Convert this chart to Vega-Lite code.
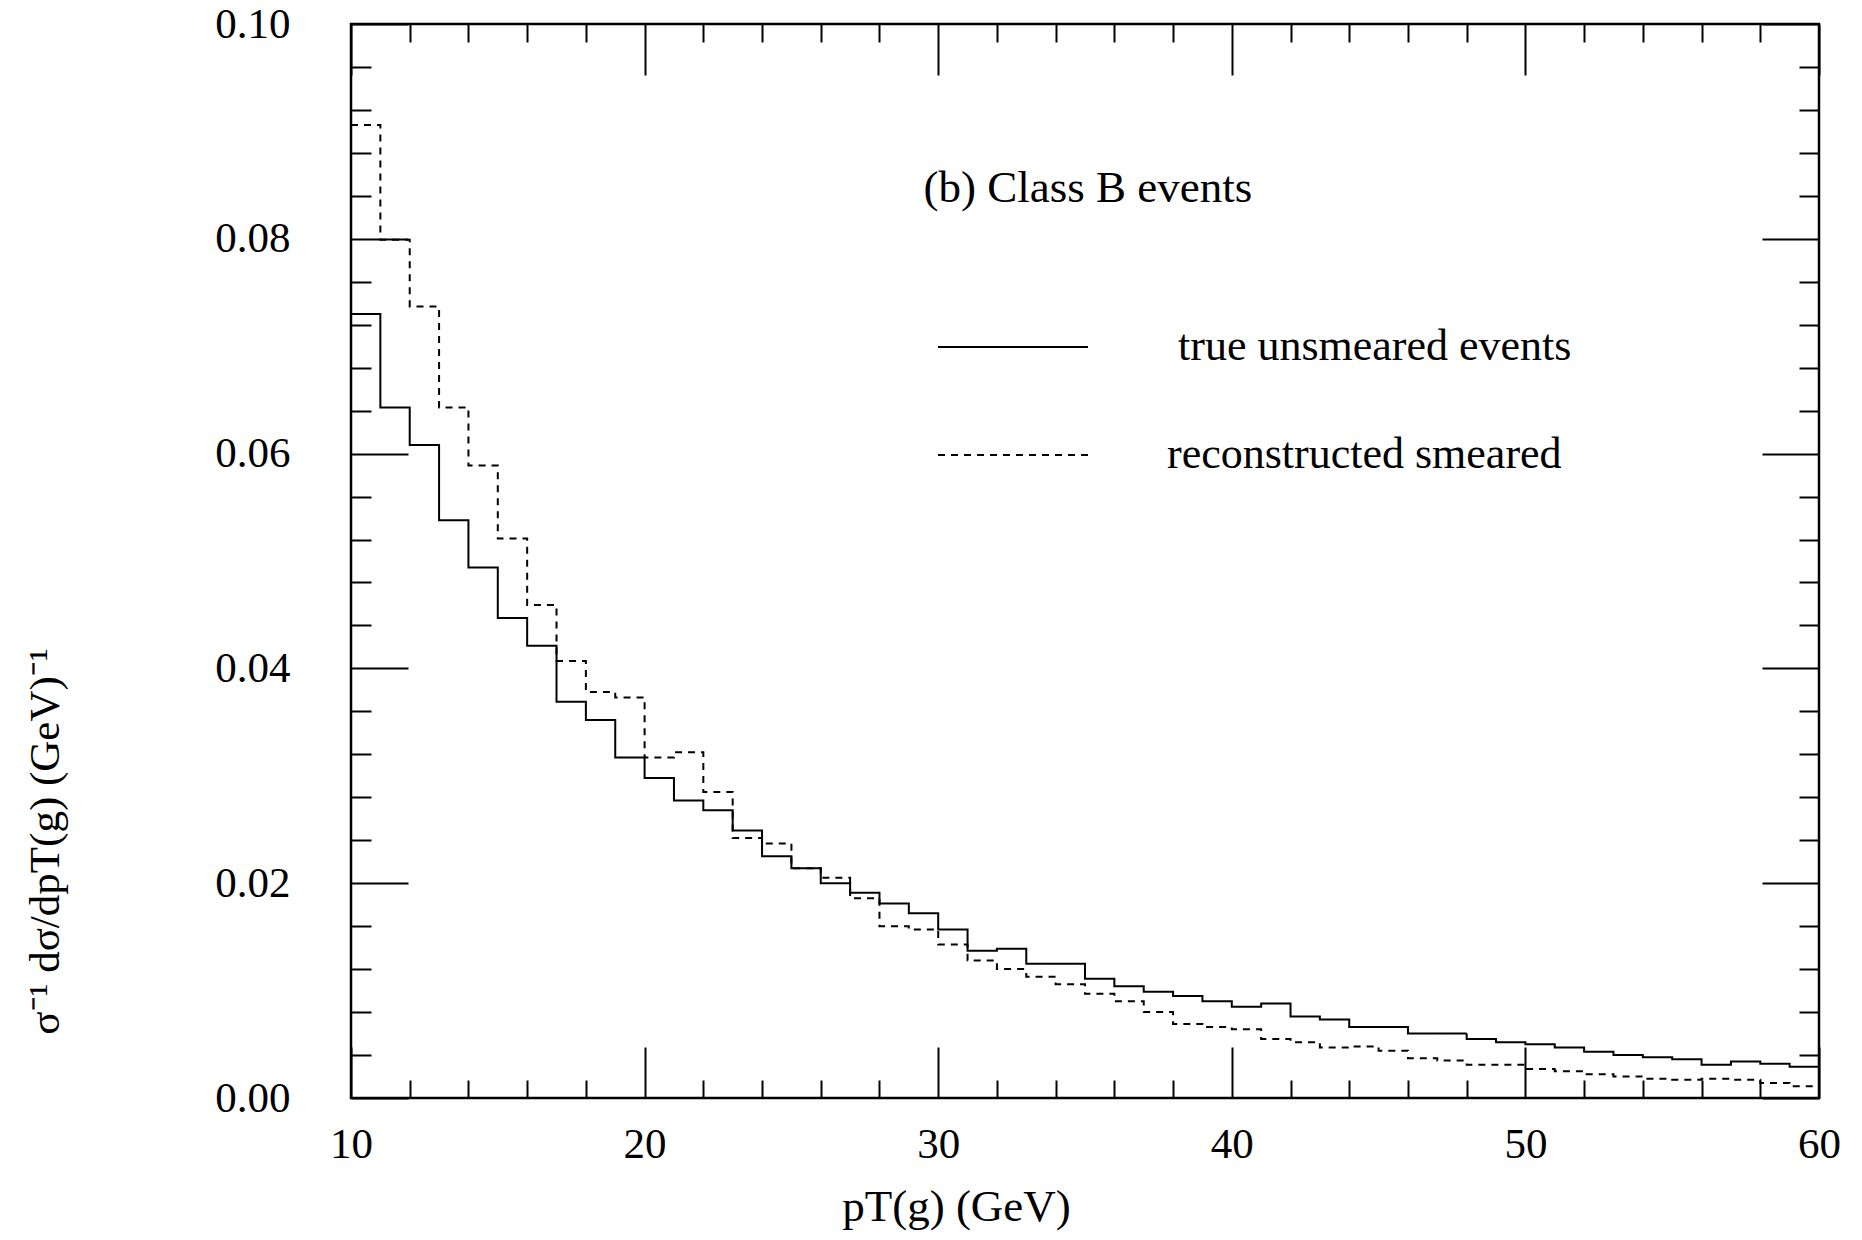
{
  "$schema": "https://vega.github.io/schema/vega-lite/v6.json",
  "width": 1468,
  "height": 1074,
  "autosize": {"type": "none"},
  "padding": {"left": 351, "top": 24, "right": 43, "bottom": 142},
  "background": "white",
  "config": {
    "view": {"stroke": "black", "strokeWidth": 2.5},
    "axis": {"domain": false, "grid": false, "tickColor": "black", "tickWidth": 2, "labelColor": "black", "labelFont": "Liberation Serif", "labelFontSize": 43, "titleFont": "Liberation Serif", "titleFontWeight": "normal", "titleColor": "black", "labelFlush": false, "labelOverlap": false}
  },
  "datasets": {
    "hist": [
      {"lo": 10, "hi": 11, "unsmeared": 0.0730, "smeared": 0.0906},
      {"lo": 11, "hi": 12, "unsmeared": 0.0643, "smeared": 0.0799},
      {"lo": 12, "hi": 13, "unsmeared": 0.0608, "smeared": 0.0737},
      {"lo": 13, "hi": 14, "unsmeared": 0.0538, "smeared": 0.0643},
      {"lo": 14, "hi": 15, "unsmeared": 0.0494, "smeared": 0.0589},
      {"lo": 15, "hi": 16, "unsmeared": 0.0447, "smeared": 0.0521},
      {"lo": 16, "hi": 17, "unsmeared": 0.0421, "smeared": 0.0459},
      {"lo": 17, "hi": 18, "unsmeared": 0.0369, "smeared": 0.0407},
      {"lo": 18, "hi": 19, "unsmeared": 0.0352, "smeared": 0.0378},
      {"lo": 19, "hi": 20, "unsmeared": 0.0317, "smeared": 0.0373},
      {"lo": 20, "hi": 21, "unsmeared": 0.0298, "smeared": 0.0317},
      {"lo": 21, "hi": 22, "unsmeared": 0.0277, "smeared": 0.0322},
      {"lo": 22, "hi": 23, "unsmeared": 0.0268, "smeared": 0.0285},
      {"lo": 23, "hi": 24, "unsmeared": 0.0249, "smeared": 0.0242},
      {"lo": 24, "hi": 25, "unsmeared": 0.0225, "smeared": 0.0237},
      {"lo": 25, "hi": 26, "unsmeared": 0.0214, "smeared": 0.0214},
      {"lo": 26, "hi": 27, "unsmeared": 0.0200, "smeared": 0.0205},
      {"lo": 27, "hi": 28, "unsmeared": 0.0191, "smeared": 0.0186},
      {"lo": 28, "hi": 29, "unsmeared": 0.0181, "smeared": 0.0160},
      {"lo": 29, "hi": 30, "unsmeared": 0.0172, "smeared": 0.0157},
      {"lo": 30, "hi": 31, "unsmeared": 0.0157, "smeared": 0.0143},
      {"lo": 31, "hi": 32, "unsmeared": 0.0137, "smeared": 0.0128},
      {"lo": 32, "hi": 33, "unsmeared": 0.0139, "smeared": 0.0120},
      {"lo": 33, "hi": 34, "unsmeared": 0.0125, "smeared": 0.0113},
      {"lo": 34, "hi": 35, "unsmeared": 0.0125, "smeared": 0.0106},
      {"lo": 35, "hi": 36, "unsmeared": 0.0111, "smeared": 0.0097},
      {"lo": 36, "hi": 37, "unsmeared": 0.0104, "smeared": 0.0090},
      {"lo": 37, "hi": 38, "unsmeared": 0.0099, "smeared": 0.0080},
      {"lo": 38, "hi": 39, "unsmeared": 0.0095, "smeared": 0.0069},
      {"lo": 39, "hi": 40, "unsmeared": 0.0090, "smeared": 0.0066},
      {"lo": 40, "hi": 41, "unsmeared": 0.0085, "smeared": 0.0064},
      {"lo": 41, "hi": 42, "unsmeared": 0.0088, "smeared": 0.0055},
      {"lo": 42, "hi": 43, "unsmeared": 0.0076, "smeared": 0.0052},
      {"lo": 43, "hi": 44, "unsmeared": 0.0073, "smeared": 0.0047},
      {"lo": 44, "hi": 45, "unsmeared": 0.0066, "smeared": 0.0048},
      {"lo": 45, "hi": 46, "unsmeared": 0.0066, "smeared": 0.0044},
      {"lo": 46, "hi": 47, "unsmeared": 0.0060, "smeared": 0.0037},
      {"lo": 47, "hi": 48, "unsmeared": 0.0060, "smeared": 0.0035},
      {"lo": 48, "hi": 49, "unsmeared": 0.0055, "smeared": 0.0031},
      {"lo": 49, "hi": 50, "unsmeared": 0.0052, "smeared": 0.0031},
      {"lo": 50, "hi": 51, "unsmeared": 0.0050, "smeared": 0.0027},
      {"lo": 51, "hi": 52, "unsmeared": 0.0047, "smeared": 0.0025},
      {"lo": 52, "hi": 53, "unsmeared": 0.0043, "smeared": 0.0022},
      {"lo": 53, "hi": 54, "unsmeared": 0.0040, "smeared": 0.0020},
      {"lo": 54, "hi": 55, "unsmeared": 0.0038, "smeared": 0.0018},
      {"lo": 55, "hi": 56, "unsmeared": 0.0036, "smeared": 0.0017},
      {"lo": 56, "hi": 57, "unsmeared": 0.0031, "smeared": 0.0018},
      {"lo": 57, "hi": 58, "unsmeared": 0.0034, "smeared": 0.0017},
      {"lo": 58, "hi": 59, "unsmeared": 0.0032, "smeared": 0.0014},
      {"lo": 59, "hi": 60, "unsmeared": 0.0029, "smeared": 0.0011}
    ],
    "note": [{"label": "(b) Class B events"}]
  },
  "data": {"name": "hist"},
  "transform": [
    {"fold": ["unsmeared", "smeared"], "as": ["series", "v"]},
    {"fold": ["lo", "hi"], "as": ["edge", "x"]}
  ],
  "resolve": {"axis": {"x": "independent", "y": "independent"}},
  "layer": [
    {
      "mark": {"type": "line", "color": "black", "strokeWidth": 2, "interpolate": "linear"},
      "encoding": {
        "x": {"field": "x", "type": "quantitative", "scale": {"domain": [10, 60], "nice": false, "zero": false},
          "axis": {"orient": "bottom", "values": [10, 20, 30, 40, 50, 60], "format": "d", "tickSize": -51, "labelPadding": 76,
            "title": "pT(g) (GeV)", "titleFontSize": 45, "titleX": 605, "titleY": 122, "titleBaseline": "alphabetic", "titleAlign": "center"}},
        "y": {"field": "v", "type": "quantitative", "scale": {"domain": [0, 0.1], "nice": false, "zero": false},
          "axis": {"orient": "left", "values": [0, 0.02, 0.04, 0.06, 0.08, 0.1], "format": ".2f", "tickSize": -57, "labelPadding": 118,
            "title": "σ⁻¹ dσ/dpT(g) (GeV)⁻¹", "titleFontSize": 43, "titleX": -293, "titleY": 817, "titleAngle": 270, "titleBaseline": "alphabetic", "titleAlign": "center"}},
        "strokeDash": {"field": "series", "type": "nominal",
          "scale": {"domain": ["unsmeared", "smeared"], "range": [[1, 0], [7, 6]]},
          "legend": {"orient": "none", "legendX": 586, "legendY": 273, "title": null, "padding": 0,
            "symbolType": "stroke", "symbolSize": 22500, "symbolStrokeWidth": 2, "symbolStrokeColor": "black",
            "clipHeight": 100, "rowPadding": 8, "labelOffset": 78, "labelFont": "Liberation Serif", "labelFontSize": 44,
            "labelColor": "black", "labelLimit": 0,
            "labelExpr": "datum.value == 'unsmeared' ? '\u200b\u00a0true unsmeared events' : 'reconstructed smeared'"}},
        "order": {"value": null}
      }
    },
    {
      "mark": {"type": "point", "opacity": 0},
      "encoding": {
        "x": {"field": "x", "type": "quantitative", "scale": {"domain": [10, 60], "nice": false, "zero": false},
          "axis": {"orient": "top", "values": [10, 20, 30, 40, 50, 60], "tickSize": -51, "labels": false, "title": null}},
        "y": {"field": "v", "type": "quantitative", "scale": {"domain": [0, 0.1], "nice": false, "zero": false},
          "axis": {"orient": "right", "values": [0, 0.02, 0.04, 0.06, 0.08, 0.1], "tickSize": -57, "labels": false, "title": null}}
      }
    },
    {
      "mark": {"type": "point", "opacity": 0},
      "encoding": {
        "x": {"field": "x", "type": "quantitative", "scale": {"domain": [10, 60], "nice": false, "zero": false},
          "axis": {"orient": "bottom", "values": [12, 14, 16, 18, 22, 24, 26, 28, 32, 34, 36, 38, 42, 44, 46, 48, 52, 54, 56, 58], "tickSize": -18, "labels": false, "title": null}},
        "y": {"field": "v", "type": "quantitative", "scale": {"domain": [0, 0.1], "nice": false, "zero": false},
          "axis": {"orient": "left", "values": [0.004, 0.008, 0.012, 0.016, 0.024, 0.028, 0.032, 0.036, 0.044, 0.048, 0.052, 0.056, 0.064, 0.068, 0.072, 0.076, 0.084, 0.088, 0.092, 0.096], "tickSize": -20, "labels": false, "title": null}}
      }
    },
    {
      "mark": {"type": "point", "opacity": 0},
      "encoding": {
        "x": {"field": "x", "type": "quantitative", "scale": {"domain": [10, 60], "nice": false, "zero": false},
          "axis": {"orient": "top", "values": [12, 14, 16, 18, 22, 24, 26, 28, 32, 34, 36, 38, 42, 44, 46, 48, 52, 54, 56, 58], "tickSize": -18, "labels": false, "title": null}},
        "y": {"field": "v", "type": "quantitative", "scale": {"domain": [0, 0.1], "nice": false, "zero": false},
          "axis": {"orient": "right", "values": [0.004, 0.008, 0.012, 0.016, 0.024, 0.028, 0.032, 0.036, 0.044, 0.048, 0.052, 0.056, 0.064, 0.068, 0.072, 0.076, 0.084, 0.088, 0.092, 0.096], "tickSize": -20, "labels": false, "title": null}}
      }
    },
    {
      "data": {"name": "note"},
      "transform": [],
      "mark": {"type": "text", "font": "Liberation Serif", "fontSize": 45, "align": "left", "baseline": "alphabetic", "color": "black"},
      "encoding": {
        "x": {"datum": 29.5, "type": "quantitative", "scale": {"domain": [10, 60], "nice": false, "zero": false}, "axis": null},
        "y": {"datum": 0.0834, "type": "quantitative", "scale": {"domain": [0, 0.1], "nice": false, "zero": false}, "axis": null},
        "text": {"field": "label", "type": "nominal"}
      }
    }
  ]
}
